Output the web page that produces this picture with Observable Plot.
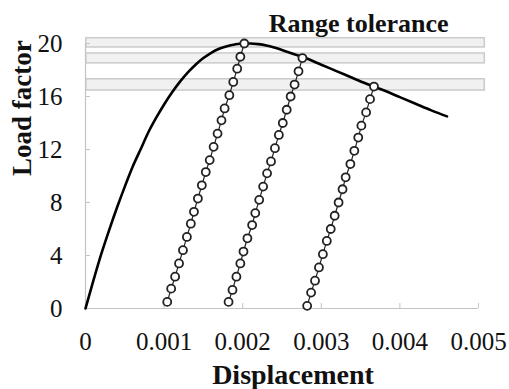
<!DOCTYPE html>
<html>
<head>
<meta charset="utf-8">
<script src="https://cdn.jsdelivr.net/npm/d3@7"></script>
<script src="https://cdn.jsdelivr.net/npm/@observablehq/plot@0.6"></script>
<style>
  html, body { margin: 0; padding: 0; background: #fff; }
  #chart svg { display: block; font-family: 'Liberation Serif', 'DejaVu Serif', serif !important; }
  #chart svg text { font-family: 'Liberation Serif', 'DejaVu Serif', serif !important; }
</style>
</head>
<body>
<div id="chart"></div>
<script>
// Main load-displacement curve
const curveX = [0, 0.0001, 0.0002, 0.0003, 0.0004, 0.0005, 0.0006, 0.0007, 0.0008, 0.0009, 0.001, 0.0011, 0.0012, 0.0013, 0.0014, 0.0015, 0.0016, 0.0017, 0.0018, 0.0019, 0.002, 0.0021, 0.0022, 0.0023, 0.0024, 0.0026, 0.0028, 0.003, 0.0032, 0.0034, 0.0036, 0.0038, 0.004, 0.0042, 0.0044, 0.0046];
const curveY = [0, 2.1, 4.1, 5.9, 7.6, 9.2, 10.7, 12.0, 13.3, 14.4, 15.4, 16.3, 17.1, 17.8, 18.4, 18.9, 19.3, 19.6, 19.8, 19.93, 20.0, 20.0, 19.95, 19.85, 19.7, 19.3, 18.9, 18.4, 17.9, 17.4, 16.9, 16.45, 15.95, 15.45, 14.95, 14.5];

// Unloading paths (circle markers)
const unload1X = [0.00104, 0.00109, 0.00114, 0.00119, 0.00124, 0.00129, 0.00134, 0.00138, 0.00143, 0.00148, 0.00153, 0.00158, 0.00163, 0.00168, 0.00173, 0.00177, 0.00183, 0.00188, 0.00193, 0.00197, 0.00202];
const unload1Y = [0.5, 1.5, 2.4, 3.4, 4.4, 5.4, 6.4, 7.3, 8.3, 9.3, 10.3, 11.2, 12.2, 13.2, 14.2, 15.1, 16.1, 17.1, 18.1, 19.0, 20.0];
const unload2X = [0.00182, 0.00187, 0.00192, 0.00197, 0.00201, 0.00206, 0.00212, 0.00216, 0.00221, 0.00226, 0.00231, 0.00236, 0.00241, 0.00246, 0.00251, 0.00256, 0.00261, 0.00266, 0.00271, 0.00276];
const unload2Y = [0.5, 1.4, 2.4, 3.4, 4.3, 5.3, 6.3, 7.2, 8.2, 9.2, 10.2, 11.1, 12.1, 13.1, 14.0, 15.0, 16.0, 16.9, 17.9, 18.9];
const unload3X = [0.00282, 0.00287, 0.00292, 0.00297, 0.00302, 0.00307, 0.00312, 0.00317, 0.00322, 0.00327, 0.00331, 0.00337, 0.00342, 0.00347, 0.00351, 0.00357, 0.00362, 0.00367];
const unload3Y = [0.2, 1.2, 2.1, 3.1, 4.1, 5.1, 6.0, 7.0, 8.0, 9.0, 9.9, 10.9, 11.9, 12.9, 13.8, 14.8, 15.8, 16.75];

// Range tolerance bands
const bandLow  = [19.7, 18.5, 16.45];
const bandHigh = [20.4, 19.25, 17.3];
const bandStart = 0.00001;
const bandEnd = 0.00508;

// Ticks
const xTicks = [0, 0.001, 0.002, 0.003, 0.004, 0.005];
const xTickLabels = ["0", "0.001", "0.002", "0.003", "0.004", "0.005"];
const yTicks = [0, 4, 8, 12, 16, 20];

const titleText = "Range tolerance";
const xLabel = "Displacement";
const yLabel = "Load factor";

const curve = curveX.map((x, i) => ({x, y: curveY[i]}));
const unload = [
  ...unload1X.map((x, i) => ({s: 1, x, y: unload1Y[i]})),
  ...unload2X.map((x, i) => ({s: 2, x, y: unload2Y[i]})),
  ...unload3X.map((x, i) => ({s: 3, x, y: unload3Y[i]}))
];
const bands = bandLow.map((lo, i) => ({lo, hi: bandHigh[i], x1: bandStart, x2: bandEnd}));

const serif = "'Liberation Serif', 'DejaVu Serif', serif";
const axisColor = "#c4c4c4";

const plot = Plot.plot({
  width: 509,
  height: 389,
  marginLeft: 85,
  marginRight: 31,
  marginTop: 43,
  marginBottom: 81,
  style: {fontFamily: serif, fontSize: "25px", color: "#111", background: "#fff"},
  x: {domain: [0, 0.005]},
  y: {domain: [0, 20]},
  marks: [
    Plot.rect(bands, {x1: "x1", x2: "x2", y1: "lo", y2: "hi", fill: "#f1f1f1", stroke: "#cbcbcb", strokeWidth: 1.5}),
    Plot.ruleY([0], {stroke: axisColor, strokeWidth: 1.2}),
    Plot.ruleX([0], {stroke: axisColor, strokeWidth: 1.2}),
    Plot.tickX(xTicks.slice(1), {x: d => d, stroke: axisColor, insetTop: 260}),
    Plot.tickY(yTicks.slice(1), {y: d => d, stroke: axisColor, insetRight: 388}),
    Plot.axisX({ticks: xTicks, tickFormat: (d) => xTickLabels[xTicks.indexOf(d)], tickSize: 0, tickPadding: 24, label: null, fontSize: 25, fontFamily: serif, fill: "#111"}),
    Plot.axisY({ticks: yTicks, tickSize: 0, tickPadding: 23, label: null, fontSize: 25, fontFamily: serif, fill: "#111"}),
    Plot.line(curve, {x: "x", y: "y", stroke: "#000", strokeWidth: 2.6, curve: "monotone-x"}),
    Plot.line(unload, {x: "x", y: "y", z: "s", stroke: "#222", strokeWidth: 1.2}),
    Plot.dot(unload, {x: "x", y: "y", r: 4, fill: "#fff", stroke: "#222", strokeWidth: 1.8}),
    Plot.text([titleText], {frameAnchor: "top-right", textAnchor: "end", lineAnchor: "bottom", dx: -30, dy: -12, fontWeight: "bold", fontSize: 26, fontFamily: serif, fill: "#111"}),
    Plot.text([xLabel], {frameAnchor: "bottom", lineAnchor: "bottom", dx: 11, dy: 75, fontWeight: "bold", fontSize: 28, fontFamily: serif, fill: "#111"}),
    Plot.text([yLabel], {frameAnchor: "left", rotate: -90, dx: -63, fontWeight: "bold", fontSize: 27, fontFamily: serif, fill: "#111"})
  ]
});
document.getElementById("chart").appendChild(plot);
</script>
</body>
</html>
